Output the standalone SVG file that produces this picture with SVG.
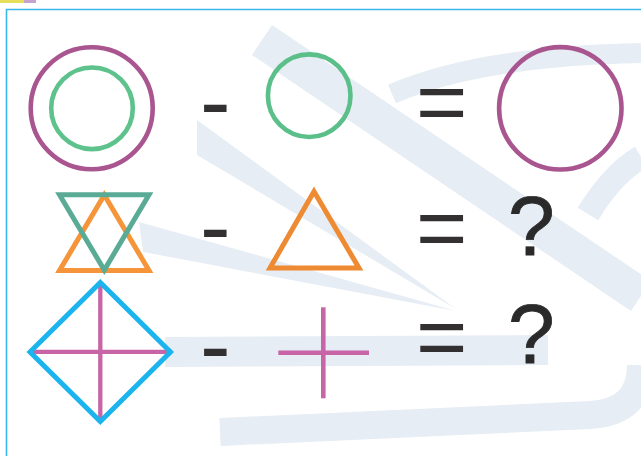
<svg xmlns="http://www.w3.org/2000/svg" width="641" height="456" viewBox="0 0 641 456">
<style>
.wm{fill:none;stroke:#e7edf4;stroke-linecap:butt}
.wf{fill:#e7edf4}
.op{font-family:"Liberation Sans",Arial,sans-serif;fill:#333031}
.q{font-family:"Liberation Sans",Arial,sans-serif;font-size:84px;fill:#2a2a2a;stroke:#2a2a2a;stroke-width:0.8}
.shape{fill:none;stroke-linejoin:miter}
</style>
<rect x="0" y="0" width="641" height="456" fill="#ffffff"/>
<!-- top-left fragment -->
<rect x="0" y="0" width="24" height="3" fill="#e6df5c"/>
<rect x="24" y="0" width="12" height="3" fill="#c7a3cf"/>
<!-- watermark -->
<g id="watermark">
<path class="wm" stroke-width="36" d="M262,40 L641,296"/>
<polygon class="wf" points="197,120 197,155 456,309"/>
<polygon class="wf" points="139,222 143,252 456,311"/>
<path class="wm" stroke-width="30" stroke-linecap="round" d="M165,352 L548,350"/>
<path class="wm" stroke-width="28" d="M220,432 L590,415 Q641,412 641,365"/>
<path class="wm" stroke-width="20" d="M392,94 Q480,56 641,53"/>
<path class="wm" stroke-width="24" d="M588,214 Q612,174 641,157"/>
</g>
<!-- frame -->
<path d="M6.5,456 L6.5,9.5 L641,9.5" fill="none" stroke="#3bb6ea" stroke-width="1.6"/>
<!-- row 1 -->
<g id="double-circle">
<circle cx="91.7" cy="108.3" r="61" class="shape" stroke="#a9558f" stroke-width="4.6"/>
<circle cx="92" cy="108.3" r="40.8" class="shape" stroke="#5ec28c" stroke-width="4.6"/>
</g>
<g id="minus1"><text class="op" x="200" y="133" font-size="92">-</text></g>
<g id="green-circle"><circle cx="309.2" cy="95.7" r="41.3" class="shape" stroke="#5bbf89" stroke-width="4.6"/></g>
<g id="equals1"><text class="op" x="416" y="131.5" font-size="88">=</text></g>
<g id="purple-circle"><circle cx="560.3" cy="108.3" r="61.2" class="shape" stroke="#a9558f" stroke-width="4.6"/></g>
<!-- row 2 -->
<g id="star-triangles">
<polygon class="shape" points="104.3,195 149,270.5 59.5,270.5" stroke="#f59438" stroke-width="5"/>
<polygon class="shape" points="59.5,194.8 149,194.8 104.3,270" stroke="#5aab96" stroke-width="5"/>
</g>
<g id="minus2"><text class="op" x="200" y="258" font-size="92">-</text></g>
<g id="orange-triangle"><polygon class="shape" points="314,191.5 359,268 270,268" stroke="#ee8a32" stroke-width="5"/></g>
<g id="equals2"><text class="op" x="416" y="257.5" font-size="88">=</text></g>
<g id="question1"><text class="q" x="508" y="255">?</text></g>
<!-- row 3 -->
<g id="diamond-cross">
<line x1="100.3" y1="285" x2="100.3" y2="418" stroke="#c865a7" stroke-width="4.3"/>
<line x1="33" y1="351.8" x2="167" y2="351.8" stroke="#c865a7" stroke-width="4.3"/>
<polygon class="shape" points="100.3,282.5 170.5,352 100.3,421.5 30,352" stroke="#1bb4ee" stroke-width="5"/>
</g>
<g id="minus3"><text class="op" x="200" y="377" font-size="92" fill="#222228">-</text></g>
<g id="plus">
<line x1="323.3" y1="307.3" x2="323.3" y2="398.3" stroke="#c865a7" stroke-width="4.6"/>
<line x1="278.3" y1="352.7" x2="369" y2="352.7" stroke="#c865a7" stroke-width="4.6"/>
</g>
<g id="equals3"><text class="op" x="416" y="366.5" font-size="88" fill="#222228">=</text></g>
<g id="question2"><text class="q" x="508" y="363">?</text></g>
</svg>
